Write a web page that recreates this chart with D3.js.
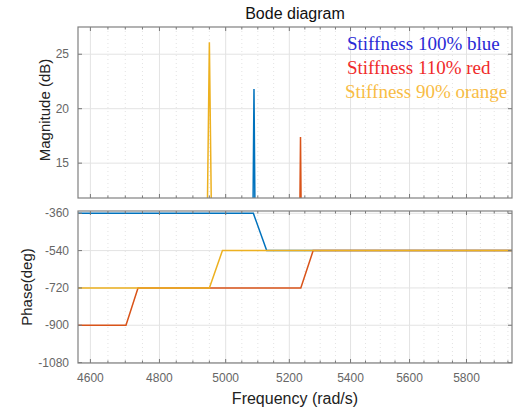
<!DOCTYPE html>
<html>
<head>
<style>
body { margin: 0; background: #fff; }
text { font-family: Arial, "Liberation Sans", sans-serif; }
</style>
</head>
<body>
<script src="https://d3js.org/d3.v7.min.js"></script>
<script>
// frequency ticks (rad/s)
var freqTicks = [4600, 4800, 5000, 5200, 5400, 5600, 5800];
var freqMinor = [4600, 4650, 4700, 4750, 4800, 4850, 4900, 4950, 5000, 5050, 5100, 5150, 5200, 5250,
                 5300, 5350, 5400, 5450, 5500, 5550, 5600, 5650, 5700, 5750, 5800, 5850, 5900, 5950];
var magTicks = [15, 20, 25];
var phaseTicks = [-1080, -900, -720, -540, -360];

// magnitude spikes (freq, dB)
var blueMagF = [4565, 5085, 5088, 5091, 5965];
var blueMag = [0, 11, 21.8, 11, 0];
var redMagF = [4565, 5234, 5236, 5238, 5965];
var redMag = [0, 11, 17.4, 11, 0];
var orangeMagF = [4565, 4944, 4950, 4956, 5965];
var orangeMag = [0, 11, 26.1, 11, 0];

// phase (freq, deg)
var bluePhF = [4565, 5086, 5128, 5965];
var bluePh = [-360, -360, -540, -540];
var redPhF = [4565, 4702, 4737, 5237, 5277, 5965];
var redPh = [-900, -900, -720, -720, -540, -540];
var orangePhF = [4565, 4950, 4990, 5965];
var orangePh = [-720, -720, -540, -540];

var colors = { blue: "#0072BD", red: "#D95319", orange: "#EDB120" };

var W = 518, H = 412;
var left = 78, right = 512;
var svg = d3.select("body").append("svg").attr("width", W).attr("height", H);

var x = d3.scaleLog().domain([4565, 5965]).range([left, right]);

function zip(f, v) { return f.map(function (d, i) { return [d, v[i]]; }); }

function panel(top, bottom, y, yTicks, series, id, showX) {
  var g = svg.append("g");
  g.append("rect").attr("x", left).attr("y", top).attr("width", right - left).attr("height", bottom - top)
    .attr("fill", "#fff");
  // minor grid
  freqMinor.forEach(function (f) {
    if (freqTicks.indexOf(f) < 0)
      g.append("line").attr("x1", x(f)).attr("x2", x(f)).attr("y1", top).attr("y2", bottom)
        .attr("stroke", "#dcdcdc").attr("stroke-width", 0.8).attr("stroke-dasharray", "1,3");
  });
  // major grid
  freqTicks.forEach(function (f) {
    g.append("line").attr("x1", x(f)).attr("x2", x(f)).attr("y1", top).attr("y2", bottom)
      .attr("stroke", "#e3e3e3").attr("stroke-width", 1);
  });
  yTicks.forEach(function (v) {
    g.append("line").attr("x1", left).attr("x2", right).attr("y1", y(v)).attr("y2", y(v))
      .attr("stroke", "#e3e3e3").attr("stroke-width", 1);
  });
  // clip
  svg.append("clipPath").attr("id", id).append("rect")
    .attr("x", left).attr("y", top).attr("width", right - left).attr("height", bottom - top);
  var line = d3.line().x(function (d) { return x(d[0]); }).y(function (d) { return y(d[1]); });
  series.forEach(function (s) {
    g.append("path").attr("d", line(s.pts)).attr("fill", "none")
      .attr("stroke", s.color).attr("stroke-width", 1.5).attr("clip-path", "url(#" + id + ")");
  });
  // ticks inward
  freqMinor.forEach(function (f) {
    var len = freqTicks.indexOf(f) < 0 ? 2.5 : 4;
    g.append("line").attr("x1", x(f)).attr("x2", x(f)).attr("y1", bottom).attr("y2", bottom - len)
      .attr("stroke", "#777");
    g.append("line").attr("x1", x(f)).attr("x2", x(f)).attr("y1", top).attr("y2", top + len)
      .attr("stroke", "#777");
  });
  yTicks.forEach(function (v) {
    g.append("line").attr("x1", left).attr("x2", left + 4).attr("y1", y(v)).attr("y2", y(v)).attr("stroke", "#777");
    g.append("line").attr("x1", right).attr("x2", right - 4).attr("y1", y(v)).attr("y2", y(v)).attr("stroke", "#777");
    g.append("text").attr("x", left - 9).attr("y", y(v)).attr("dy", "0.35em")
      .attr("text-anchor", "end").attr("font-size", 12).attr("fill", "#666").text(v);
  });
  g.append("rect").attr("x", left).attr("y", top).attr("width", right - left).attr("height", bottom - top)
    .attr("fill", "none").attr("stroke", "#808080").attr("stroke-width", 1.2);
  if (showX) {
    freqTicks.forEach(function (f) {
      g.append("text").attr("x", x(f)).attr("y", bottom + 15).attr("dy", "0.35em")
        .attr("text-anchor", "middle").attr("font-size", 12).attr("fill", "#666").text(f);
    });
  }
}

var yMag = d3.scaleLinear().domain([11.8, 27.5]).range([198, 27]);
panel(27, 198, yMag, magTicks, [
  { pts: zip(blueMagF, blueMag), color: colors.blue },
  { pts: zip(redMagF, redMag), color: colors.red },
  { pts: zip(orangeMagF, orangeMag), color: colors.orange }
], "clipMag", false);

var yPh = d3.scaleLinear().domain([-1082, -349]).range([363, 211]);
panel(211, 363, yPh, phaseTicks, [
  { pts: zip(bluePhF, bluePh), color: colors.blue },
  { pts: zip(redPhF, redPh), color: colors.red },
  { pts: zip(orangePhF, orangePh), color: colors.orange }
], "clipPh", true);

// titles and labels
svg.append("text").attr("x", (left + right) / 2).attr("y", 19).attr("text-anchor", "middle")
  .attr("font-size", 16).attr("fill", "#111").text("Bode diagram");
svg.append("text").attr("x", (left + right) / 2).attr("y", 404).attr("text-anchor", "middle")
  .attr("font-size", 16).attr("fill", "#222").text("Frequency (rad/s)");
svg.append("text").attr("transform", "translate(50,110) rotate(-90)").attr("text-anchor", "middle")
  .attr("font-size", 15).attr("fill", "#222").text("Magnitude (dB)");
svg.append("text").attr("transform", "translate(32,287) rotate(-90)").attr("text-anchor", "middle")
  .attr("font-size", 15).attr("fill", "#222").text("Phase(deg)");

// legend annotation
var legend = [
  { label: "Stiffness 100% blue", color: "#2a2ad6", y: 50, x: 347 },
  { label: "Stiffness 110% red", color: "#f02a2a", y: 74, x: 347 },
  { label: "Stiffness 90% orange", color: "#f8bc45", y: 98, x: 345 }
];
legend.forEach(function (d) {
  svg.append("text").attr("x", d.x).attr("y", d.y).attr("font-size", 19)
    .style("font-family", "'Liberation Serif', 'Times New Roman', serif")
    .attr("fill", d.color).text(d.label);
});
</script>
</body>
</html>
